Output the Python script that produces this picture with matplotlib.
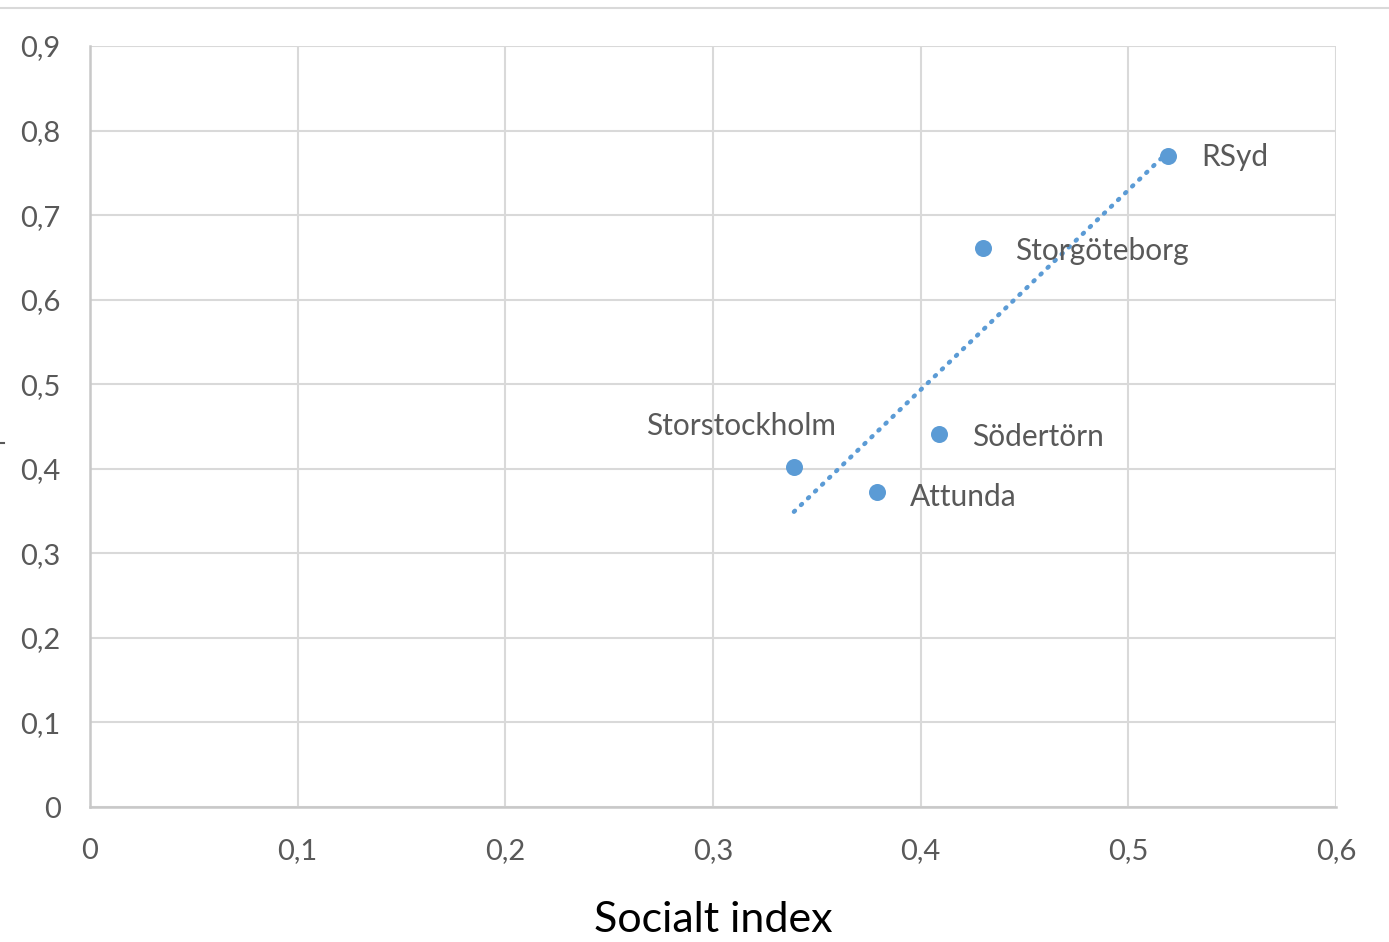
import numpy as np
import matplotlib
matplotlib.use('Agg')
import matplotlib.pyplot as plt
from matplotlib.ticker import FuncFormatter, MultipleLocator
from matplotlib.lines import Line2D

# Data
regioner = ['RSyd', 'Storgöteborg', 'Södertörn', 'Storstockholm', 'Attunda']
socialt_index = [0.519, 0.43, 0.409, 0.339, 0.379]
y_varden = [0.77, 0.661, 0.441, 0.402, 0.372]

# Etikettplacering per region (pixlar)
etikett_offset = {
    'RSyd': (34, -1, 'left'),
    'Storgöteborg': (32, -3, 'left'),
    'Södertörn': (33, -3, 'left'),
    'Storstockholm': (-53, 41, 'center'),
    'Attunda': (33, -5, 'left'),
}

plt.rcParams['font.family'] = ['Lato', 'DejaVu Sans']

blue = '#5B9BD5'
grid_grey = '#D9D9D9'
text_grey = '#595959'

fig = plt.figure(figsize=(13.89, 9.42), dpi=100)
ax = fig.add_axes([0.0648, 0.1433, 0.897, 0.8079])

ax.set_xlim(0, 0.6)
ax.set_ylim(0, 0.9)
ax.xaxis.set_major_locator(MultipleLocator(0.1))
ax.yaxis.set_major_locator(MultipleLocator(0.1))
fmt = FuncFormatter(lambda v, p: f'{round(v, 2):g}'.replace('.', ','))
ax.xaxis.set_major_formatter(fmt)
ax.yaxis.set_major_formatter(fmt)

ax.grid(True, color=grid_grey, linewidth=1.5)
ax.set_axisbelow(True)
for side in ['top', 'right']:
    ax.spines[side].set_visible(False)
for side in ['left', 'bottom']:
    ax.spines[side].set_color('#C8C8C8')
    ax.spines[side].set_linewidth(1.8)

ax.tick_params(length=0, labelsize=21, labelcolor=text_grey)
ax.tick_params(axis='y', pad=21)
ax.tick_params(axis='x', pad=22)

# Linjär trendlinje
x = np.array(socialt_index)
y = np.array(y_varden)
k, m = np.polyfit(x, y, 1)
xs = np.array([x.min(), x.max()])
ax.plot(xs, k * xs + m, color=blue, linewidth=3.2,
        linestyle=(0, (0.3, 1.9)), dash_capstyle='round', zorder=2)

ax.scatter(x, y, s=150, color=blue, zorder=3, linewidths=0)

for namn, xv, yv in zip(regioner, socialt_index, y_varden):
    dx, dy, ha = etikett_offset[namn]
    ax.annotate(namn, (xv, yv), xytext=(dx, dy), textcoords='offset pixels',
                ha=ha, va='center', fontsize=21.5, color=text_grey)

ax.set_xlabel('Socialt index', fontsize=31, color='black', labelpad=27)

# Kantlinje upptill och liten rest av y-etikett
fig.add_artist(Line2D([0, 1], [0.9915, 0.9915], color=grid_grey, linewidth=1.5))
fig.add_artist(Line2D([0, 0.003], [0.5297, 0.5297], color=text_grey, linewidth=1.5))

fig.savefig('out.png', dpi=100)
